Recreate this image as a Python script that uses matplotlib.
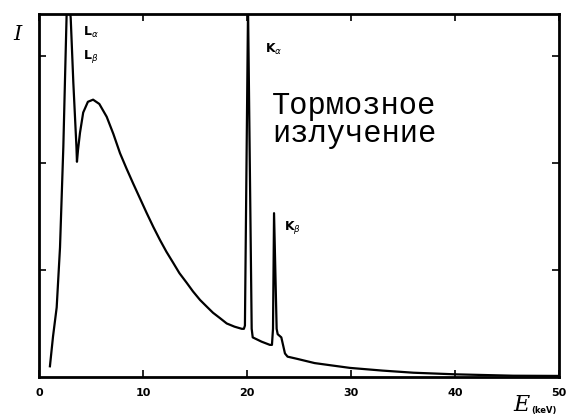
import matplotlib.pyplot as plt

# спектр рентгеновского излучения
energy = [1.05, 1.35, 1.7, 2.02, 2.34, 2.5, 2.75, 3.05, 3.3, 3.5, 3.6, 3.65, 3.75,
          3.94, 4.25, 4.7, 5.2, 5.8, 6.51, 7.15, 7.79, 8.4, 9.04, 9.7, 10.36,
          11.0, 11.63, 12.25, 12.88, 13.5, 14.2, 14.8, 15.48, 16.1, 16.73,
          17.4, 18.05, 18.8, 19.5, 19.7, 19.8, 20.1, 20.45, 20.55, 21.4, 22.2,
          22.4, 22.5, 22.6, 22.85, 22.95, 23.3, 23.65, 23.9, 24.8, 26.5, 28.0,
          29.9, 33.0, 36.0, 40.0, 45.6, 50.0]
intensity = [0.1, 0.38, 0.65, 1.21, 2.15, 2.78, 3.75, 3.35, 2.75, 2.35, 2.15, 2.01, 2.12,
             2.28, 2.47, 2.57, 2.59, 2.55, 2.43, 2.27, 2.09, 1.95, 1.81, 1.67, 1.53,
             1.40, 1.28, 1.17, 1.07, 0.97, 0.88, 0.80, 0.72, 0.66, 0.60,
             0.55, 0.50, 0.47, 0.45, 0.45, 0.48, 3.45, 0.45, 0.37, 0.33, 0.30,
             0.30, 0.45, 1.53, 0.45, 0.40, 0.37, 0.22, 0.19, 0.17, 0.13, 0.11,
             0.085, 0.06, 0.04, 0.025, 0.012, 0.01]

x_ticks = [0, 10, 20, 30, 40, 50]
y_ticks = [1, 2, 3]

fig = plt.figure(figsize=(5.66, 4.17), dpi=100)
ax = fig.add_axes([39 / 566, 1 - 377 / 417, 520 / 566, 363 / 417])

ax.plot(energy, intensity, color='black', lw=1.6)

ax.set_xlim(0, 50)
ax.set_ylim(0, 3.39)
ax.set_xticks(x_ticks)
ax.set_yticks(y_ticks)
ax.set_yticklabels([])
ax.tick_params(direction='in', top=True, right=True, length=5, width=1.2,
               labelsize=8, pad=8)
for lab in ax.get_xticklabels():
    lab.set_fontweight('bold')
for s in ax.spines.values():
    s.set_linewidth(2)

# подписи осей
fig.text(17 / 566, 1 - 35 / 417, 'I', family='DejaVu Serif', style='italic',
         fontsize=15, ha='center', va='center')
fig.text(521 / 566, 1 - 405 / 417, 'E', family='DejaVu Serif', style='italic',
         fontsize=16, ha='center', va='center')
fig.text(531 / 566, 1 - 410 / 417, '(keV)', fontsize=6, fontweight='bold',
         ha='left', va='center')

# линии спектра
ax.text(4.2, 3.22, r'L$_\alpha$', fontsize=9, fontweight='bold', va='center')
ax.text(4.2, 2.99, r'L$_\beta$', fontsize=9, fontweight='bold', va='center')
ax.text(21.7, 3.06, r'K$_\alpha$', fontsize=9, fontweight='bold', va='center')
ax.text(23.6, 1.4, r'K$_\beta$', fontsize=9, fontweight='bold', va='center')

ax.text(22.4, 2.4, 'Тормозное\nизлучение', family='Liberation Mono',
        fontsize=22, linespacing=0.95, va='center', ha='left')

fig.savefig('out.png', dpi=100)
